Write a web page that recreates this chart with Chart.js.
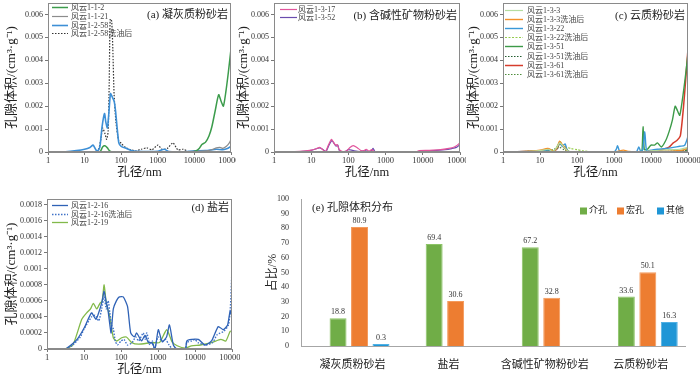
<!DOCTYPE html>
<html>
<head>
<meta charset="utf-8">
<script src="https://cdn.jsdelivr.net/npm/chart.js@4.4.0/dist/chart.umd.min.js"></script>
<style>
html, body { margin: 0; padding: 0; background: #fff; }
body { width: 700px; height: 375px; position: relative; overflow: hidden; }
canvas { position: absolute; }
</style>
</head>
<body>
<canvas id="ca" width="236" height="180" style="left:0;top:0"></canvas>
<canvas id="cb" width="230" height="180" style="left:236px;top:0"></canvas>
<canvas id="cc" width="234" height="180" style="left:466px;top:0"></canvas>
<canvas id="cd" width="240" height="195" style="left:0;top:180px"></canvas>
<canvas id="ce" width="460" height="195" style="left:240px;top:180px"></canvas>
<script>
// 共用刻度
const xTicks = [1, 10, 100, 1000, 10000, 100000];
const FONT = "'Liberation Serif', 'Noto Sans CJK SC', serif";

// (a) 凝灰质粉砂岩  [孔径nm, 孔隙体积]
const a_112 = [[1.5,0],[20,0],[27,0.00003],[31,0.00022],[36,0.00027],[42,0.00018],[48,0.00005],[60,0],[1000,0],[8000,0],[11000,0.00005],[13500,0.00015],[16000,0.00033],[20000,0.00042],[25000,0.0007],[30000,0.0011],[37000,0.0018],[46000,0.0025],[54000,0.0022],[62000,0.002],[72000,0.0026],[85000,0.0035],[100000,0.0045]];
const a_1121 = [[1.5,0],[100,0],[300,0.00002],[1000,0.00002],[3000,0.00001],[10000,0.00003],[20000,0.00005],[30000,0.0001],[40000,0.00018],[50000,0.0002],[60000,0.00016],[75000,0.00025],[90000,0.0004],[100000,0.00055]];
const a_1258 = [[1.5,0],[3,0.00001],[6,0.00006],[10,0.00012],[14,0.0002],[17,0.0003],[19.5,0.00015],[22,0.00002],[26,0.0002],[30,0.0011],[35,0.00168],[38,0.0013],[42,0.00105],[46,0.0017],[51,0.00255],[57,0.0024],[64,0.00222],[70,0.0018],[77,0.0011],[86,0.0004],[100,0.00025],[140,0.00015],[200,0.00005],[400,0.00002],[1000,0.00003],[1500,0.00012],[2000,0.00002],[5000,0.00001],[10000,0.00005],[20000,0.00006],[40000,0.00012],[60000,0.0001],[80000,0.00015],[100000,0.00025]];
const a_1258w = [[1.5,0],[10,0.00001],[20,0.00002],[24,0.0001],[28,0.0006],[31,0.00105],[36,0.0008],[40,0.00055],[44,0.0009],[47,0.003],[50,0.0058],[55,0.0057],[59,0.0045],[64,0.0025],[72,0.0013],[85,0.0005],[100,0.00038],[130,0.0002],[180,0.0001],[250,0.00005],[350,0.00012],[500,0.00018],[700,0.0001],[1000,0.0003],[1300,0.00012],[1800,0.00015],[2600,0.0004],[3500,0.0001],[5000,0.00012],[7000,0.00002],[10000,0],[100000,0]];

// (b) 含碱性矿物粉砂岩
const b_317 = [[1.5,0],[5,0.00003],[10,0.00008],[14,0.00015],[17,0.0002],[20,0.00012],[24,0.00001],[29,0.0003],[35,0.00055],[40,0.00042],[45,0.0003],[50,0.00032],[57,0.0001],[70,0.00002],[90,0.00005],[110,0.0002],[135,0.00028],[170,0.0002],[210,0.00008],[260,0.00005],[300,0.00012],[360,0.00003],[420,0.0001],[520,0],[2000,0],[7000,0.00002],[8000,0.00006],[15000,0.00007],[30000,0.0001],[50000,0.00016],[70000,0.00022],[85000,0.0003],[100000,0.0004]];
const b_352 = [[1.5,0],[5,0.00002],[10,0.00007],[17,0.00018],[21,0.0001],[25,0.00002],[30,0.0003],[36,0.0005],[42,0.00035],[47,0.00025],[52,0.0003],[58,0.00003],[80,0],[100,0.0001],[130,0.00007],[200,0.00002],[280,0.00006],[350,0.00002],[420,0.00006],[460,0.00016],[520,0.00002],[1000,0],[7000,0],[9000,0.00005],[20000,0.00006],[40000,0.0001],[60000,0.00015],[80000,0.0002],[100000,0.00032]];

// (c) 云质粉砂岩
const c_33 = [[1.5,0],[5,0.00002],[10,0.00006],[17,0.00012],[22,0.00002],[28,0.0002],[34,0.0004],[40,0.0003],[48,0.00015],[60,0.00003],[100,0],[5000,0],[10000,0.00005],[30000,0.0001],[60000,0.00012],[100000,0.0002]];
const c_33w = [[1.5,0],[5,0.00003],[10,0.00008],[16,0.00015],[19,0.00012],[23,0.00001],[29,0.0002],[34,0.00047],[40,0.00032],[47,0.0002],[55,0.00005],[70,0],[1000,0],[1800,0.00008],[2500,0.00002],[6000,0],[10000,0.00003],[40000,0.00005],[80000,0.0001],[100000,0.00022]];
const c_322 = [[1.5,0],[10,0.00005],[17,0.0001],[22,0],[28,0.00015],[34,0.00042],[40,0.00025],[48,0.00035],[55,0.00005],[80,0],[1000,0],[1150,0.00012],[1250,0.00027],[1400,0.00005],[1700,0],[4000,0],[4700,0.00022],[5300,0.00002],[6000,0.0001],[6800,0.00088],[7600,0.00005],[10000,0.00008],[15000,0.00012],[25000,0.00015],[40000,0.0002],[60000,0.00025],[80000,0.00028],[92000,0.0005],[100000,0.0007]];
const c_322w = [[1.5,0],[10,0.00005],[17,0.0001],[25,0.00005],[30,0.0003],[35,0.00045],[42,0.0003],[50,0.00022],[70,0.00015],[100,0.0001],[150,0.00005],[250,0.00001],[1000,0],[100000,0]];
const c_351 = [[1.5,0],[10,0.00004],[17,0.0001],[22,0.00002],[29,0.0002],[34,0.0004],[40,0.00028],[48,0.0002],[60,0.00002],[100,0],[5000,0],[5700,0.00005],[6100,0.0011],[6600,0.0001],[8000,0.00012],[10000,0.0003],[12500,0.0003],[15000,0.0004],[19000,0.00022],[25000,0.0005],[31000,0.0009],[38000,0.0014],[45000,0.002],[52000,0.0018],[60000,0.0016],[75000,0.0026],[88000,0.0035],[100000,0.0043]];
const c_351w = [[1.5,0],[10,0.00004],[17,0.00008],[22,0.00002],[29,0.00015],[34,0.00035],[40,0.0003],[48,0.00015],[60,0.00002],[100,0],[10000,0],[30000,0.00003],[70000,0.00005],[100000,0.0001]];
const c_361 = [[1.5,0],[10,0.00004],[17,0.0001],[22,0],[29,0.00015],[34,0.0004],[40,0.00027],[48,0.00015],[60,0],[10000,0],[15000,0.00005],[20000,0.0001],[30000,0.0002],[40000,0.0004],[50000,0.0005],[62000,0.0007],[75000,0.0019],[88000,0.0033],[100000,0.0045]];
const c_361w = [[1.5,0],[17,0.00005],[34,0.0002],[45,0.0001],[70,0],[10000,0],[50000,0.00003],[100000,0.00008]];

// (d) 盐岩
const d_216 = [[1.5,0],[3.1,0],[5,0.00007],[7,0.00014],[10.6,0.00028],[16,0.00045],[21,0.00037],[27,0.0005],[31,0.0006],[35,0.00072],[40,0.00058],[44,0.0005],[50,0.0003],[54,0.0002],[62,0.0005],[75,0.0006],[90,0.00065],[115,0.00065],[150,0.00053],[183,0.0002],[230,0.00015],[265,0.0002],[360,0.0001],[445,0.00017],[550,0.00008],[680,0.00008],[830,0],[1020,0.00024],[1300,0.00009],[1700,0.00015],[2040,0.0003],[2600,0.00005],[3200,0],[5500,0],[6000,0.0001],[8100,0.00012],[12300,0.00012],[18600,0.00005],[28000,0.0001],[42700,0.00028],[58000,0.00024],[76000,0.0003],[89000,0.00047],[100000,0.0004]];
const d_216w = [[1.5,0],[3.5,0],[5,0.00005],[8,0.00015],[10,0.00025],[16,0.0004],[20,0.00042],[25,0.00035],[30,0.0005],[35,0.00065],[40,0.0005],[45,0.0006],[50,0.00045],[55,0.0003],[62,0.00025],[70,0.0001],[80,0.00005],[100,0.0001],[120,0.00012],[150,0.00005],[200,0.00008],[250,0.00015],[300,0.0001],[400,0.0002],[450,0.00012],[500,0.0002],[600,0.00005],[700,0.0001],[800,0],[1000,0.00015],[1300,0.0001],[1600,0.00012],[2000,0.00005],[2500,0],[5500,0],[6000,0.00008],[8000,0.0001],[10000,0.00012],[12000,0.00008],[20000,0.00005],[30000,0.00008],[40000,0.00018],[60000,0.00022],[80000,0.0003],[90000,0.0005],[100000,0.001]];
const d_219 = [[1.5,0],[3,0],[5,0.00005],[8.7,0.00037],[11.8,0.00045],[15,0.0005],[17.9,0.00057],[22,0.0005],[27,0.00057],[31,0.0006],[35,0.0008],[40,0.00057],[50,0.0004],[62,0.00014],[76,0.0001],[104,0.00014],[140,0.00015],[195,0.00008],[300,0.00006],[680,0.00008],[1100,0.00008],[1720,0.00024],[2400,0.00009],[3300,0.00004],[5400,0.00001],[8000,0.00004],[14000,0.00005],[28000,0.00008],[50000,0.00012],[68000,0.0001],[89000,0.00022],[100000,0.00022]];

// (e) 孔隙体积分布
const rockTypes = ['凝灰质粉砂岩', '盐岩', '含碱性矿物粉砂岩', '云质粉砂岩'];
const mesoPct = [18.8, 69.4, 67.2, 33.6];
const macroPct = [80.9, 30.6, 32.8, 50.1];
const otherPct = [0.3, null, null, 16.3];
const yTicksE = [0, 10, 20, 30, 40, 50, 60, 70, 80, 90, 100];

// 边框、图例、标题
const panelPlugin = {
    id: 'panel',
    afterDraw(chart, args, o) {
        const ctx = chart.ctx;
        const a = chart.chartArea;
        ctx.save();
        ctx.strokeStyle = '#8a8a8a';
        ctx.lineWidth = 1;
        ctx.strokeRect(Math.round(a.left) + 0.5, Math.round(a.top) + 0.5,
            Math.round(a.right - a.left) - 1, Math.round(a.bottom - a.top) - 1);

        chart.data.datasets.forEach((ds, i) => {
            const y = Math.round(a.top + o.ly + i * o.dy) + 0.5;
            ctx.beginPath();
            ctx.setLineDash(ds.borderDash || []);
            ctx.strokeStyle = ds.borderColor;
            ctx.lineWidth = ds.borderWidth;
            ctx.moveTo(a.left + o.lx0, y);
            ctx.lineTo(a.left + o.lx1, y);
            ctx.stroke();
            ctx.setLineDash([]);
            ctx.fillStyle = '#444';
            ctx.font = `8px ${FONT}`;
            ctx.textAlign = 'left';
            ctx.textBaseline = 'middle';
            ctx.fillText(ds.label, a.left + o.tx, y);
        });

        ctx.fillStyle = '#222';
        ctx.font = `11px ${FONT}`;
        ctx.textAlign = 'right';
        ctx.textBaseline = 'middle';
        ctx.fillText(o.title, a.right - 3, a.top + o.ty);
        ctx.restore();
    }
};

function fmtY(v) {
    if (v === 0) return '0';
    return String(parseFloat(v.toFixed(4)));
}

function lineChart(id, series, opt) {
    return new Chart(document.getElementById(id), {
        type: 'line',
        data: {
            datasets: series.map(s => ({
                label: s.label,
                data: s.data.map(p => ({ x: p[0], y: p[1] })),
                borderColor: s.color,
                borderWidth: s.width || 1.2,
                borderDash: s.dash || [],
                pointRadius: 0,
                tension: 0.2,
                fill: false
            }))
        },
        options: {
            responsive: false,
            animation: false,
            layout: { padding: { top: opt.top, right: opt.right, left: 0, bottom: 0 } },
            plugins: {
                legend: { display: false },
                tooltip: { enabled: false },
                panel: opt.panel
            },
            scales: {
                x: {
                    type: 'logarithmic',
                    min: 1,
                    max: 100000,
                    afterBuildTicks: s => { s.ticks = xTicks.map(v => ({ value: v })); },
                    afterFit: s => { s.height = opt.xh; s.paddingLeft = 0; s.paddingRight = 0; },
                    grid: { drawOnChartArea: false, tickLength: 3, color: '#777' },
                    border: { color: '#8a8a8a' },
                    ticks: {
                        font: { family: FONT, size: 8.5 }, color: '#333', padding: 1,
                        maxRotation: 0, autoSkip: false, callback: v => String(v)
                    },
                    title: {
                        display: true, text: '孔径/nm', color: '#222',
                        font: { family: FONT, size: 12.5 }, padding: { top: 0, bottom: opt.xtp }
                    }
                },
                y: {
                    min: 0,
                    max: opt.ymax,
                    afterFit: s => { s.width = opt.yw; s.paddingTop = 0; s.paddingBottom = 0; },
                    grid: { drawOnChartArea: false, tickLength: 3, color: '#777' },
                    border: { color: '#8a8a8a' },
                    ticks: {
                        stepSize: opt.step, includeBounds: false,
                        font: { family: FONT, size: 8 }, color: '#333', padding: 2,
                        callback: v => fmtY(v)
                    },
                    title: {
                        display: true, text: '孔隙体积/(cm³·g⁻¹)', color: '#222',
                        font: { family: FONT, size: 13 }, padding: { top: opt.ytp, bottom: 0 }
                    }
                }
            }
        },
        plugins: [panelPlugin]
    });
}

lineChart('ca', [
    { label: '风云1-1-2', data: a_112, color: '#3c9c4c', width: 1.5 },
    { label: '风云1-1-21', data: a_1121, color: '#8c8c8c' },
    { label: '风云1-2-58', data: a_1258, color: '#3d8fd6', width: 1.6 },
    { label: '风云1-2-58洗油后', data: a_1258w, color: '#333', dash: [1.5, 1.5] }
], {
    top: 3, right: 5, xh: 28, yw: 48, ymax: 0.0065, step: 0.001, xtp: 0, ytp: 4,
    panel: { title: '(a) 凝灰质粉砂岩', ty: 12, lx0: 4, lx1: 20, tx: 23, ly: 3.7, dy: 8.9 }
});

lineChart('cb', [
    { label: '风云1-3-17', data: b_317, color: '#e2559c' },
    { label: '风云1-3-52', data: b_352, color: '#6a4cae' }
], {
    top: 3, right: 6, xh: 28, yw: 38, ymax: 0.0065, step: 0.001, xtp: 0, ytp: 0,
    panel: { title: '(b) 含碱性矿物粉砂岩', ty: 13, lx0: 6, lx1: 23, tx: 24, ly: 6.3, dy: 7.5 }
});

lineChart('cc', [
    { label: '风云1-3-3', data: c_33, color: '#b5dca0' },
    { label: '风云1-3-3洗油后', data: c_33w, color: '#f39028', width: 1.4 },
    { label: '风云1-3-22', data: c_322, color: '#3a98d8', width: 1.4 },
    { label: '风云1-3-22洗油后', data: c_322w, color: '#95cc4c', dash: [2, 1.5] },
    { label: '风云1-3-51', data: c_351, color: '#3c9a48', width: 1.4 },
    { label: '风云1-3-51洗油后', data: c_351w, color: '#235e30', dash: [1.5, 1.5] },
    { label: '风云1-3-61', data: c_361, color: '#d63c2c', width: 1.5 },
    { label: '风云1-3-61洗油后', data: c_361w, color: '#4e8e3c', dash: [1.5, 1.5] }
], {
    top: 3, right: 12, xh: 28, yw: 37, ymax: 0.0065, step: 0.001, xtp: 0, ytp: 0,
    panel: { title: '(c) 云质粉砂岩', ty: 13, lx0: 2, lx1: 20, tx: 24, ly: 7, dy: 9.1 }
});

lineChart('cd', [
    { label: '风云1-2-16', data: d_216, color: '#2f62b6', width: 1.3 },
    { label: '风云1-2-16洗油后', data: d_216w, color: '#3f72c8', dash: [1.5, 1.5], width: 1.4 },
    { label: '风云1-2-19', data: d_219, color: '#82b94a', width: 1.3 }
], {
    top: 19, right: 8, xh: 26, yw: 47, ymax: 0.00187, step: 0.0002, xtp: -2, ytp: 4,
    panel: { title: '(d) 盐岩', ty: 9, lx0: 5, lx1: 21, tx: 24, ly: 6, dy: 8.7 }
});

// (e) 柱状图
const barPlugin = {
    id: 'barDeco',
    afterDraw(chart) {
        const ctx = chart.ctx;
        const a = chart.chartArea;
        ctx.save();
        // 数值标签
        ctx.font = `8px ${FONT}`;
        ctx.fillStyle = '#333';
        ctx.textAlign = 'center';
        ctx.textBaseline = 'bottom';
        chart.data.datasets.forEach((ds, i) => {
            chart.getDatasetMeta(i).data.forEach((bar, j) => {
                const v = ds.data[j].y;
                if (v === null) return;
                ctx.fillText(v.toFixed(1), bar.x, bar.y - 2);
            });
        });
        // 标题
        ctx.font = `11px ${FONT}`;
        ctx.fillStyle = '#222';
        ctx.textAlign = 'left';
        ctx.textBaseline = 'middle';
        ctx.fillText('(e) 孔隙体积分布', a.left + 11, a.top + 9);
        // 图例
        const lx = [279, 316, 356];
        chart.data.datasets.forEach((ds, i) => {
            const x = a.left + lx[i];
            const y = a.top + 12;
            ctx.fillStyle = ds.backgroundColor;
            ctx.fillRect(x, y - 3.5, 7, 7);
            ctx.fillStyle = '#222';
            ctx.font = `9px ${FONT}`;
            ctx.fillText(ds.label, x + 9, y);
        });
        ctx.restore();
    }
};

const toXY = arr => arr.map((v, i) => ({ x: i, y: v }));

new Chart(document.getElementById('ce'), {
    type: 'bar',
    data: {
        datasets: [
            { label: '介孔', data: toXY(mesoPct), backgroundColor: '#70ad47', borderColor: '#8cc466', borderWidth: 1 },
            { label: '宏孔', data: toXY(macroPct), backgroundColor: '#ed7d31', borderColor: '#f49a5c', borderWidth: 1 },
            { label: '其他', data: toXY(otherPct), backgroundColor: '#1f96d6', borderColor: '#4fb0e4', borderWidth: 1, minBarLength: 2 }
        ]
    },
    options: {
        responsive: false,
        animation: false,
        categoryPercentage: 0.67,
        barPercentage: 0.79,
        layout: { padding: { top: 19, right: 15, left: 22, bottom: 0 } },
        plugins: { legend: { display: false }, tooltip: { enabled: false } },
        scales: {
            x: {
                type: 'linear',
                offset: false,
                min: -0.609,
                max: 3.387,
                afterBuildTicks: s => { s.ticks = rockTypes.map((_, i) => ({ value: i })); },
                afterFit: s => { s.height = 29; s.paddingLeft = 0; s.paddingRight = 0; },
                grid: { display: false },
                border: { color: '#a6a6a6' },
                ticks: {
                    font: { family: FONT, size: 11 }, color: '#222', padding: 5, labelOffset: -7,
                    maxRotation: 0, autoSkip: false, callback: v => rockTypes[v]
                }
            },
            y: {
                min: 0,
                max: 100,
                afterBuildTicks: s => { s.ticks = yTicksE.map(v => ({ value: v })); },
                afterFit: s => { s.width = 39; s.paddingTop = 0; s.paddingBottom = 0; },
                grid: { display: false },
                border: { color: '#a6a6a6' },
                ticks: { font: { family: FONT, size: 8 }, color: '#333', padding: 4 },
                title: {
                    display: true, text: '占比/%', color: '#222',
                    font: { family: FONT, size: 12 }, padding: { top: 4, bottom: 0 }
                }
            }
        }
    },
    plugins: [barPlugin]
});
</script>
</body>
</html>
